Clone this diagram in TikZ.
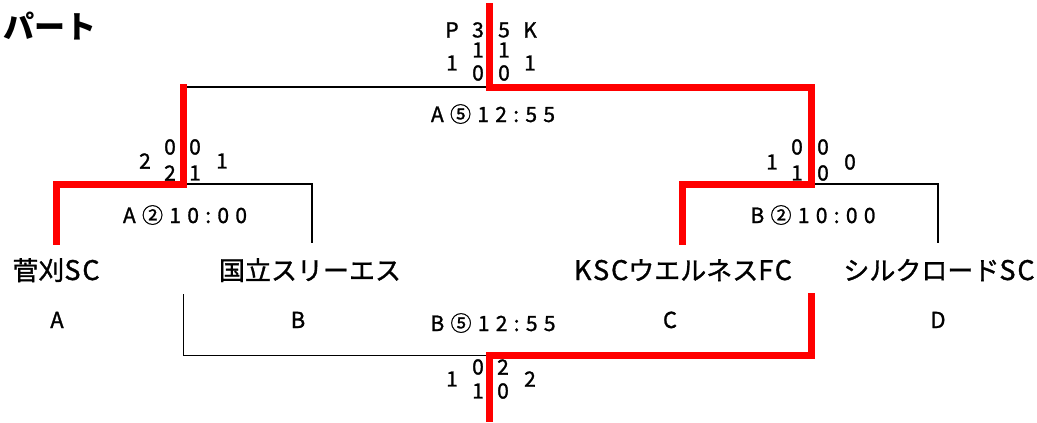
\documentclass[tikz,border=0pt]{standalone}
\usepackage{fontspec}
\setmainfont{Noto Sans CJK JP}[FakeBold=1.2]
\newfontfamily\titlefont{Noto Sans CJK JP}
\newcommand{\lsp}[1]{{\fontsize{27pt}{30pt}\selectfont\addfontfeature{LetterSpace=7}#1}}
\begin{document}
\begin{tikzpicture}[x=1pt,y=-1pt,
  win/.style={draw=red,line width=7pt,line cap=rect,line join=miter},
  lose/.style={draw=black,line width=2.8pt},
  thin/.style={draw=black,line width=1pt},
  score/.style={inner sep=0pt,font=\fontsize{21pt}{24pt}\selectfont},
  timelbl/.style={inner sep=0pt,anchor=base,font=\fontsize{21pt}{24pt}\selectfont\addfontfeature{LetterSpace=30}},
  team/.style={inner sep=0pt,anchor=base,font=\fontsize{26pt}{30pt}\selectfont},
  letter/.style={inner sep=0pt,anchor=base,font=\fontsize{22pt}{26pt}\selectfont}]
\useasboundingbox (0,0) rectangle (1037,423);
% coordinates
\coordinate (T) at (489,6.5);
\coordinate (F) at (489,87);
\coordinate (LT) at (183,87);
\coordinate (LS) at (183,184);
\coordinate (RS) at (811,184);
\coordinate (tA) at (56,241.5);
\coordinate (tB) at (312,243);
\coordinate (tC) at (682,241.5);
\coordinate (tD) at (938,243);
\coordinate (bB) at (183,294);
\coordinate (bC) at (811,296.5);
\coordinate (BJ) at (489,355);
\coordinate (BE) at (489,418);
% losing lines
\draw[lose] (F) -- (LT);
\draw[lose] (LS) -| (tB);
\draw[lose] (RS) -| (tD);
\draw[thin] (bB) |- (BJ);
% winning lines
\draw[win] (T) -- (F) -| (RS) -| (tC);
\draw[win] (LT) -- (LS) -| (tA);
\draw[win] (bC) |- (BJ) -- (BE);
% title
\node[inner sep=0pt,anchor=west,font=\fontsize{31pt}{36pt}\selectfont\titlefont\bfseries] (title) at (3,26) {パート};
% final scores
\node[score] (fP) at (452,30) {P};
\node[score] (f3) at (478,30) {3};
\node[score] (f5) at (504,30) {5};
\node[score] (fK) at (530,30) {K};
\node[score] (fl) at (452,63) {1};
\node[score] (fa1) at (478,50) {1};
\node[score] (fa2) at (478,73) {0};
\node[score] (fb1) at (504,50) {1};
\node[score] (fb2) at (504,73) {0};
\node[score] (fr) at (530,63) {1};
\node[timelbl] (tf) at (493,122) {A⑤12:55};
% left semi
\node[score] (ll) at (145,161) {2};
\node[score] (la1) at (170,147) {0};
\node[score] (la2) at (170,173) {2};
\node[score] (lb1) at (195,147) {0};
\node[score] (lb2) at (195,173) {1};
\node[score] (lr) at (222,161) {1};
\node[timelbl] (tl) at (185,223) {A②10:00};
% right semi
\node[score] (rl) at (772,162) {1};
\node[score] (ra1) at (797,147) {0};
\node[score] (ra2) at (797,173) {1};
\node[score] (rb1) at (823,147) {0};
\node[score] (rb2) at (823,173) {0};
\node[score] (rr) at (850,162) {0};
\node[timelbl] (tr) at (813,223) {B②10:00};
% teams
\node[team] (A) at (56,280) {菅刈\lsp{SC}};
\node[team] (B) at (310,280) {国立スリーエス};
\node[team] (C) at (683,280) {\lsp{KSC}ウエルネス\lsp{FC}};
\node[team] (D) at (939,280) {シルクロード\lsp{SC}};
\node[letter] (lA) at (57,328) {A};
\node[letter] (lB) at (298,328) {B};
\node[letter] (lC) at (670,328) {C};
\node[letter] (lD) at (938,328) {D};
% third place
\node[timelbl] (tb) at (493,331) {B⑤12:55};
\node[score] (bl) at (452,379) {1};
\node[score] (ba1) at (478,367) {0};
\node[score] (ba2) at (478,391) {1};
\node[score] (bb1) at (503,367) {2};
\node[score] (bb2) at (503,391) {0};
\node[score] (br) at (530,379) {2};
\end{tikzpicture}
\end{document}
